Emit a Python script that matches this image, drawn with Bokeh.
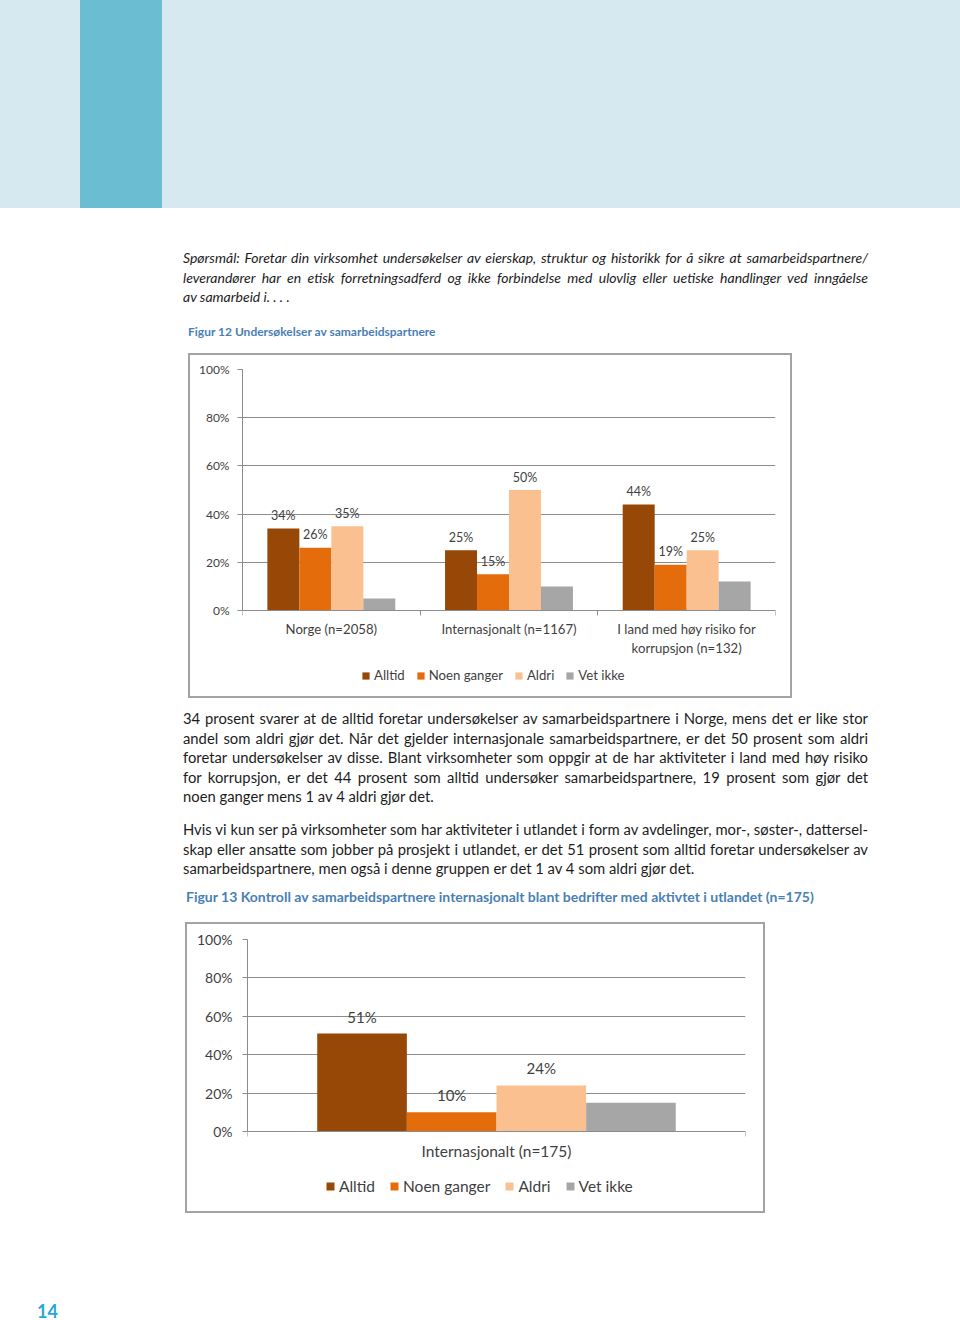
from bokeh.plotting import figure
from bokeh.models import (Div, ColumnDataSource, FixedTicker, NumeralTickFormatter,
                          Legend, LegendItem, LabelSet, Range1d)
from bokeh.layouts import column
from bokeh.core.properties import value
from bokeh.embed import file_html
from bokeh.resources import INLINE

# ---------------- data ----------------
series = ["Alltid", "Noen ganger", "Aldri", "Vet ikke"]
series_colors = ["#974706", "#E46C0A", "#FAC090", "#A6A6A6"]

fig12_categories = ["Norge (n=2058)", "Internasjonalt (n=1167)",
                    "I land med høy risiko for\nkorrupsjon (n=132)"]
fig12_alltid = [34, 25, 44]
fig12_noen_ganger = [26, 15, 19]
fig12_aldri = [35, 50, 25]
fig12_vet_ikke = [5, 10, 12]

fig13_categories = ["Internasjonalt (n=175)"]
fig13_alltid = [51]
fig13_noen_ganger = [10]
fig13_aldri = [24]
fig13_vet_ikke = [15]

y_ticks = [0, 0.2, 0.4, 0.6, 0.8, 1.0]

FONT = "Lato"
AXIS_GRAY = "#8c8c8c"
TXT = "#3f3f3f"


def make_chart(cats, vals, w, h, bl, br, bt, bb, axis_px, below_px,
               fs_y, fs_x, fs_lab, fs_leg, lab_off, x_standoff, y_standoff,
               leg_xy, glyph, leg_spacing):
    """axis_px: pixel height of 0..100 %, below_px: frame space below 0 %."""
    n = len(cats)
    p = figure(width=w, height=h, x_range=(0, n),
               y_range=Range1d(-below_px / axis_px, 1),
               output_backend="svg", toolbar_location=None,
               min_border_left=bl, min_border_right=br, min_border_top=bt,
               min_border_bottom=bb, outline_line_color=None,
               background_fill_color="white", border_fill_color="white",
               margin=0)
    p.xgrid.visible = False
    p.ygrid.ticker = FixedTicker(ticks=y_ticks)
    p.ygrid.grid_line_color = AXIS_GRAY
    p.ygrid.grid_line_width = 1

    # y axis
    p.yaxis.ticker = FixedTicker(ticks=y_ticks)
    p.yaxis.formatter = NumeralTickFormatter(format="0%")
    p.yaxis.bounds = (0, 1)
    p.yaxis.major_tick_in = 0
    p.yaxis.major_tick_out = 5
    p.yaxis.minor_tick_line_color = None
    p.yaxis.axis_line_color = AXIS_GRAY
    p.yaxis.major_tick_line_color = AXIS_GRAY
    p.yaxis.major_label_text_font = FONT
    p.yaxis.major_label_text_font_size = f"{fs_y}px"
    p.yaxis.major_label_text_color = TXT
    p.yaxis.major_label_standoff = y_standoff

    # x axis at 0 %: labels at category centres, ticks at category borders
    centers = [i + 0.5 for i in range(n)]
    borders = [float(i) for i in range(n + 1)]
    p.xaxis.fixed_location = 0
    p.xaxis.ticker = FixedTicker(ticks=centers, minor_ticks=borders)
    p.xaxis.major_label_overrides = {c: lab for c, lab in zip(centers, cats)}
    p.xaxis.major_tick_in = 0
    p.xaxis.major_tick_out = 0
    p.xaxis.minor_tick_in = 0
    p.xaxis.minor_tick_out = 5
    p.xaxis.minor_tick_line_color = AXIS_GRAY
    p.xaxis.axis_line_color = AXIS_GRAY
    p.xaxis.major_label_text_font = FONT
    p.xaxis.major_label_text_font_size = f"{fs_x}px"
    p.xaxis.major_label_text_color = TXT
    p.xaxis.major_label_standoff = x_standoff

    bar_w = 0.18
    offsets = [-0.27, -0.09, 0.09, 0.27]
    items = []
    for k, (name, col, v) in enumerate(zip(series, series_colors, vals)):
        src = ColumnDataSource(dict(
            x=[c + offsets[k] for c in centers],
            top=[val / 100 for val in v],
            lab=[f"{val}%" for val in v],
        ))
        r = p.vbar(x="x", top="top", bottom=0, width=bar_w, source=src,
                   fill_color=col, line_color=None)
        items.append(LegendItem(label=name, renderers=[r]))
        if k < 3:
            p.add_layout(LabelSet(x="x", y="top", text="lab", source=src,
                                  text_align="center", text_baseline="middle",
                                  y_offset=lab_off, text_font=value(FONT),
                                  text_font_size=value(f"{fs_lab}px"),
                                  text_color=TXT))

    leg = Legend(items=items, orientation="horizontal", location=leg_xy,
                 border_line_color=None, background_fill_alpha=0,
                 glyph_width=glyph, glyph_height=glyph, label_standoff=4,
                 spacing=leg_spacing, padding=0, margin=0,
                 label_height=int(fs_leg) + 2, label_text_font=FONT,
                 label_text_font_size=f"{fs_leg}px", label_text_color=TXT,
                 label_text_baseline="middle")
    p.add_layout(leg)
    return p


def boxed(p, left):
    return column(p, margin=(0, 0, 0, left), spacing=0,
                  styles={"border": "2px solid #a3a3a3"})


fig12_vals = [fig12_alltid, fig12_noen_ganger, fig12_aldri, fig12_vet_ikke]
fig13_vals = [fig13_alltid, fig13_noen_ganger, fig13_aldri, fig13_vet_ikke]

p1 = make_chart(fig12_categories, fig12_vals, 600, 341, 52, 15, 14, 2,
                241, 84, 12, 13.2, 12.5, 13.2, 13, 5, 8, (119, 11), 9, 11)
p2 = make_chart(fig13_categories, fig13_vals, 576, 287, 60, 18, 15, 2,
                192, 78, 14, 15.5, 15, 15.5, 17, 5, 10, (78, 14), 10, 14)

# ---------------- page texts ----------------
BODY = "font-family:Lato;font-size:14.8px;color:#1c1c1c;line-height:19.5px;"
J = "text-align:justify;text-align-last:justify;white-space:nowrap;"
L = "text-align:left;white-space:nowrap;"


def lines_html(lines, top, left, width, extra=""):
    out = [f'<div style="position:absolute;left:{left}px;top:{top}px;width:{width}px;{BODY}{extra}">']
    for i, ln in enumerate(lines):
        style = L if i == len(lines) - 1 else J
        out.append(f'<div style="{style}">{ln}</div>')
    out.append("</div>")
    return "".join(out)


question = [
    "Spørsmål: Foretar din virksomhet undersøkelser av eierskap, struktur og historikk for å sikre at samarbeidspartnere/",
    "leverandører har en etisk forretningsadferd og ikke forbindelse med ulovlig eller uetiske handlinger ved inngåelse",
    "av samarbeid i. . . .",
]
para1 = [
    "34 prosent svarer at de alltid foretar undersøkelser av samarbeidspartnere i Norge, mens det er like stor",
    "andel som aldri gjør det. Når det gjelder internasjonale samarbeidspartnere, er det 50 prosent som aldri",
    "foretar undersøkelser av disse. Blant virksomheter som oppgir at de har aktiviteter i land med høy risiko",
    "for korrupsjon, er det 44 prosent som alltid undersøker samarbeidspartnere, 19 prosent som gjør det",
    "noen ganger mens 1 av 4 aldri gjør det.",
]
para2 = [
    "Hvis vi kun ser på virksomheter som har aktiviteter i utlandet i form av avdelinger, mor-, søster-, dattersel-",
    "skap eller ansatte som jobber på prosjekt i utlandet, er det 51 prosent som alltid foretar undersøkelser av",
    "samarbeidspartnere, men også i denne gruppen er det 1 av 4 som aldri gjør det.",
]
caption12 = "Figur 12 Undersøkelser av samarbeidspartnere"
caption13 = "Figur 13 Kontroll av samarbeidspartnere internasjonalt blant bedrifter med aktivtet i utlandet (n=175)"
page_no = "14"

CAP = "font-family:Lato;font-weight:bold;color:#4a7fb5;white-space:nowrap;"

header = Div(width=960, height=208, margin=0, text=(
    '<div style="position:relative;width:960px;height:208px;background:#d6e9f1;">'
    '<div style="position:absolute;left:80px;top:0;width:82px;height:208px;background:#6bbed2;"></div>'
    '</div>'))

block1 = Div(width=960, height=145, margin=0, text=(
    '<div style="position:relative;width:960px;height:145px;">'
    + lines_html(question, 40, 183, 685, "font-style:italic;font-size:14px;")
    + f'<div style="position:absolute;left:188px;top:116px;font-size:12px;line-height:16px;{CAP}">{caption12}</div>'
    + '</div>'))

block2 = Div(width=960, height=224, margin=0, text=(
    '<div style="position:relative;width:960px;height:224px;">'
    + lines_html(para1, 11, 183, 685)
    + lines_html(para2, 122, 183, 685)
    + f'<div style="position:absolute;left:186px;top:190px;font-size:14px;line-height:18px;{CAP}">{caption13}</div>'
    + '</div>'))

footer = Div(width=960, height=107, margin=0, text=(
    '<div style="position:relative;width:960px;height:107px;">'
    f'<div style="position:absolute;left:37px;top:89px;font-family:Lato;font-weight:bold;font-size:18px;line-height:18px;color:#27a6d9;">{page_no}</div>'
    '</div>'))

page = column(header, block1, boxed(p1, 188), block2, boxed(p2, 185), footer,
              spacing=0, margin=0)

open("out.html", "w").write(file_html(page, INLINE))
